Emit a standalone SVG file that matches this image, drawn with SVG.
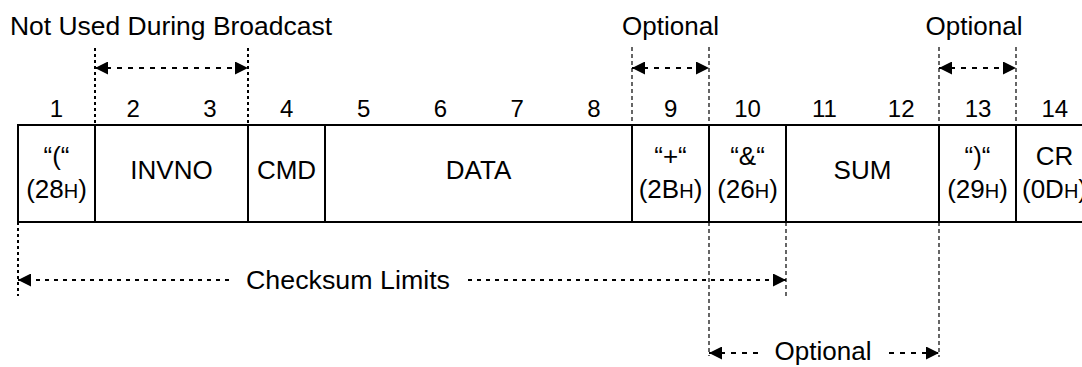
<svg xmlns="http://www.w3.org/2000/svg" width="1082" height="367" viewBox="0 0 1082 367">
<style>
text{font-family:"Liberation Sans",Arial,sans-serif;fill:#000}
.lbl{font-size:26px}
.num{font-size:24px;text-anchor:middle}
.cell{font-size:26px;text-anchor:middle}
.sm{font-size:20px}
.box{fill:none;stroke:#000;stroke-width:2}
.div{stroke:#000;stroke-width:2}
.vthick{stroke:#000;stroke-width:2;stroke-dasharray:3 3}
.vthin{stroke:#000;stroke-width:1.2;stroke-dasharray:4 3}
.arr{stroke:#000;stroke-width:2;stroke-dasharray:5 6;fill:none}
</style>
<defs>
<marker id="ah" markerUnits="userSpaceOnUse" viewBox="0 0 13 13" refX="13" refY="6.5" markerWidth="13" markerHeight="13" orient="auto-start-reverse">
<path d="M0,0 L13,6.5 L0,13 z" fill="#000"/>
</marker>
</defs>

<g id="labels">
<text class="lbl" x="10" y="35" textLength="322" lengthAdjust="spacingAndGlyphs">Not Used During Broadcast</text>
<text class="lbl" x="670.5" y="35" text-anchor="middle">Optional</text>
<text class="lbl" x="974" y="35" text-anchor="middle">Optional</text>
<text class="lbl" x="348" y="289" text-anchor="middle" textLength="204" lengthAdjust="spacingAndGlyphs">Checksum Limits</text>
<text class="lbl" x="823" y="360" text-anchor="middle">Optional</text>
</g>

<g id="numbers">
<text class="num" x="56.4" y="117">1</text>
<text class="num" x="133.2" y="117">2</text>
<text class="num" x="210" y="117">3</text>
<text class="num" x="286.8" y="117">4</text>
<text class="num" x="363.6" y="117">5</text>
<text class="num" x="440.4" y="117">6</text>
<text class="num" x="517.2" y="117">7</text>
<text class="num" x="594" y="117">8</text>
<text class="num" x="670.8" y="117">9</text>
<text class="num" x="747.6" y="117">10</text>
<text class="num" x="824.4" y="117">11</text>
<text class="num" x="901.2" y="117">12</text>
<text class="num" x="978" y="117">13</text>
<text class="num" x="1054.8" y="117">14</text>
</g>

<g id="frame">
<rect class="box" x="18" y="125" width="1075" height="97"/>
<line class="div" x1="95" y1="125" x2="95" y2="222"/>
<line class="div" x1="248" y1="125" x2="248" y2="222"/>
<line class="div" x1="325" y1="125" x2="325" y2="222"/>
<line class="div" x1="632" y1="125" x2="632" y2="222"/>
<line class="div" x1="709" y1="125" x2="709" y2="222"/>
<line class="div" x1="786" y1="125" x2="786" y2="222"/>
<line class="div" x1="939" y1="125" x2="939" y2="222"/>
<line class="div" x1="1016" y1="125" x2="1016" y2="222"/>
</g>

<g id="field-open">
<text class="cell" x="56.5" y="165">“(“</text>
<text class="cell" x="56.5" y="198">(28<tspan class="sm">H</tspan>)</text>
</g>
<g id="field-invno"><text class="cell" x="171.5" y="179">INVNO</text></g>
<g id="field-cmd"><text class="cell" x="286.5" y="179">CMD</text></g>
<g id="field-data"><text class="cell" x="478.5" y="179">DATA</text></g>
<g id="field-plus">
<text class="cell" x="670.5" y="165">“+“</text>
<text class="cell" x="670.5" y="198">(2B<tspan class="sm">H</tspan>)</text>
</g>
<g id="field-amp">
<text class="cell" x="747.5" y="165">“&amp;“</text>
<text class="cell" x="747.5" y="198">(26<tspan class="sm">H</tspan>)</text>
</g>
<g id="field-sum"><text class="cell" x="862.5" y="179">SUM</text></g>
<g id="field-close">
<text class="cell" x="977.5" y="165">“)“</text>
<text class="cell" x="977.5" y="198">(29<tspan class="sm">H</tspan>)</text>
</g>
<g id="field-cr">
<text class="cell" x="1054.5" y="165">CR</text>
<text class="cell" x="1054.5" y="198">(0D<tspan class="sm">H</tspan>)</text>
</g>

<g id="connectors">
<line class="vthick" x1="95" y1="48" x2="95" y2="125"/>
<line class="vthick" x1="248" y1="48" x2="248" y2="125"/>
<line class="arr" x1="95" y1="68" x2="248" y2="68" marker-start="url(#ah)" marker-end="url(#ah)"/>

<line class="vthin" x1="632" y1="47" x2="632" y2="125"/>
<line class="vthin" x1="709" y1="47" x2="709" y2="125"/>
<line class="arr" x1="632" y1="68" x2="709" y2="68" marker-start="url(#ah)" marker-end="url(#ah)"/>

<line class="vthin" x1="939" y1="47" x2="939" y2="125"/>
<line class="vthin" x1="1016" y1="47" x2="1016" y2="125"/>
<line class="arr" x1="939" y1="68" x2="1016" y2="68" marker-start="url(#ah)" marker-end="url(#ah)"/>

<line class="vthick" x1="18" y1="222" x2="18" y2="296"/>
<line class="vthin" x1="786" y1="222" x2="786" y2="296"/>
<line class="arr" style="stroke-dasharray:4 5" x1="18" y1="280" x2="232" y2="280" marker-start="url(#ah)"/>
<line class="arr" style="stroke-dasharray:4 5" x1="468" y1="280" x2="786" y2="280" marker-end="url(#ah)"/>

<line class="vthin" x1="709" y1="222" x2="709" y2="356"/>
<line class="vthin" x1="939" y1="222" x2="939" y2="357"/>
<line class="arr" x1="709" y1="353" x2="758" y2="353" marker-start="url(#ah)"/>
<line class="arr" x1="889" y1="353" x2="939" y2="353" marker-end="url(#ah)"/>
</g>
</svg>
